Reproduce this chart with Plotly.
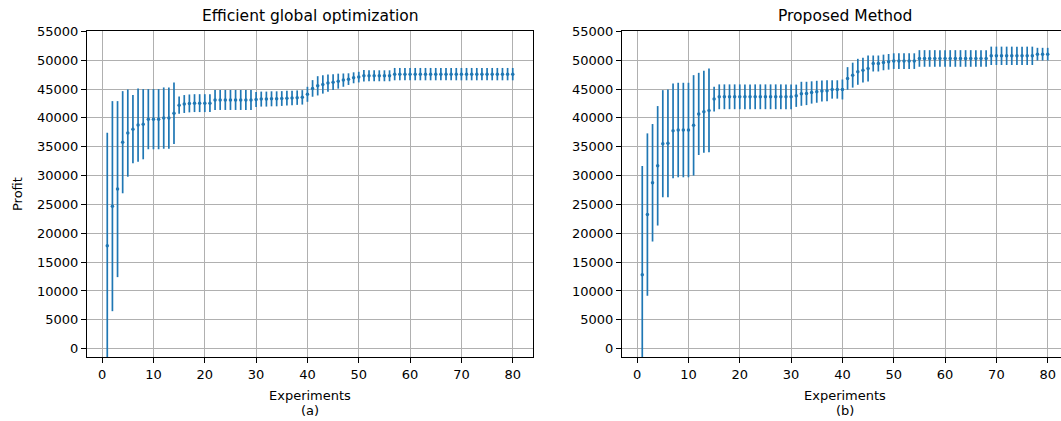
import plotly.graph_objects as go

experiments = list(range(1, 81))

# Efficient global optimization (a): mean profit and error half-width
ego_mean = [17820, 24700, 27650, 35780, 37360, 38030, 38750, 38900, 39770, 39770,
            39770, 39960, 39960, 40800, 42200, 42400, 42500, 42550, 42550, 42550,
            42550, 43100, 43100, 43100, 43100, 43100, 43100, 43100, 43100, 43200,
            43250, 43250, 43300, 43300, 43350, 43400, 43450, 43500, 43550, 44080,
            45100, 45550, 45790, 46020, 46190, 46360, 46540, 46710, 46940, 47060,
            47290, 47290, 47290, 47290, 47290, 47290, 47575, 47575, 47575, 47575,
            47575, 47575, 47575, 47575, 47575, 47575, 47575, 47575, 47575, 47575,
            47575, 47575, 47575, 47575, 47575, 47575, 47575, 47575, 47575, 47575]
ego_err = [19600, 18200, 15250, 8850, 7560, 5910, 6350, 6080, 5210, 5210,
           5210, 5310, 5310, 5340, 1500, 1550, 1550, 1550, 1550, 1550,
           1550, 1730, 1730, 1730, 1730, 1730, 1730, 1730, 1730, 1300,
           1300, 1300, 1300, 1300, 1280, 1280, 1260, 1250, 1250, 1300,
           1440, 1670, 1590, 1500, 1385, 1300, 1150, 1010, 950, 920,
           1010, 950, 950, 950, 950, 950, 1070, 1070, 1070, 1070,
           1070, 1070, 1070, 1070, 1070, 1070, 1070, 1070, 1070, 1070,
           1070, 1070, 1070, 1070, 1070, 1070, 1070, 1070, 1070, 1070]

# Proposed Method (b)
prop_mean = [12800, 23240, 28750, 31690, 35520, 35580, 37750, 37890, 37890, 37890,
             38700, 40680, 41050, 41290, 43250, 43650, 43650, 43650, 43650, 43650,
             43650, 43650, 43650, 43650, 43650, 43650, 43650, 43650, 43650, 43650,
             43830, 44170, 44230, 44400, 44520, 44640, 44690, 44920, 44920, 44920,
             46830, 47400, 47980, 48270, 48560, 49420, 49420, 49600, 49710, 49830,
             49830, 49830, 49830, 49830, 50290, 50290, 50290, 50290, 50290, 50290,
             50290, 50290, 50290, 50290, 50290, 50290, 50290, 50290, 50750, 50750,
             50750, 50750, 50750, 50750, 50750, 50750, 50750, 51035, 51035, 51035]
prop_err = [18860, 14070, 10180, 10350, 9280, 9340, 8220, 8190, 8190, 8190,
            8700, 7120, 7100, 7270, 2160, 2150, 2150, 2150, 2150, 2150,
            2150, 2150, 2150, 2150, 2150, 2150, 2150, 2150, 2150, 2150,
            1930, 2080, 2020, 1930, 1900, 1820, 1820, 1590, 1590, 1730,
            1960, 2160, 2250, 2160, 2250, 1385, 1385, 1355, 1355, 1355,
            1355, 1355, 1355, 1355, 1440, 1440, 1440, 1440, 1440, 1440,
            1440, 1440, 1440, 1440, 1440, 1440, 1440, 1440, 1590, 1590,
            1590, 1590, 1590, 1590, 1590, 1590, 1590, 1100, 1100, 1100]

titles = ["Efficient global optimization", "Proposed Method"]
x_label = "Experiments"
sub_labels = ["(a)", "(b)"]
y_label = "Profit"
y_ticks = list(range(0, 55001, 5000))
y_ticktext = [str(v) for v in y_ticks]
x_ticks = list(range(0, 81, 10))

BLUE = "#1f77b4"
FONT = "DejaVu Sans"
W, H = 1061, 421
TOP, BOT = 31, 357

fig = go.Figure()
for mean, err, xa, ya in [(ego_mean, ego_err, "x", "y"), (prop_mean, prop_err, "x2", "y2")]:
    fig.add_trace(go.Scatter(
        x=experiments, y=mean, mode="markers",
        marker=dict(color=BLUE, size=3.5),
        error_y=dict(type="data", array=err, visible=True, color=BLUE,
                     thickness=1.7, width=0),
        xaxis=xa, yaxis=ya, showlegend=False, hoverinfo="skip"))

left_dom = [87 / W, 533 / W]
right_dom = [622 / W, 1.0]

common_x = dict(tickmode="array", tickvals=x_ticks, ticks="outside", ticklen=5,
                tickwidth=1, tickcolor="black", showgrid=True, gridcolor="#b0b0b0",
                gridwidth=1, zeroline=False, showline=True, linecolor="black",
                linewidth=1, ticklabeloverflow="allow",
                tickfont=dict(family=FONT, size=13, color="black"))
common_y = dict(tickmode="array", tickvals=y_ticks, ticktext=y_ticktext,
                ticks="outside", ticklen=5,
                tickwidth=1, tickcolor="black", showgrid=True, gridcolor="#b0b0b0",
                gridwidth=1, zeroline=False, showline=True, linecolor="black",
                linewidth=1, range=[-1440, 55050],
                tickfont=dict(family=FONT, size=13, color="black"))

fig.update_layout(
    width=W, height=H,
    margin=dict(l=0, r=0, t=TOP, b=H - BOT, autoexpand=False),
    paper_bgcolor="white", plot_bgcolor="white",
    font=dict(family=FONT, color="black"),
    xaxis=dict(domain=left_dom, range=[-2.95, 83.95], anchor="y", mirror=True, **common_x),
    yaxis=dict(domain=[0, 1], anchor="x", mirror=True, **common_y),
    xaxis2=dict(domain=right_dom, range=[-2.95, 82.59], anchor="y2", mirror=True, **common_x),
    yaxis2=dict(domain=[0, 1], anchor="x2", mirror=False, **common_y),
)

plot_h = BOT - TOP
def py(ref_y):
    return (BOT - ref_y) / plot_h
def px(ref_x):
    return ref_x / W

centers_ref = [(87 + 533) / 2, (622 + 1068) / 2]
ann = []
for i in range(2):
    ann.append(dict(text=titles[i], x=px(centers_ref[i]), y=py(16),
                    font=dict(family=FONT, size=15.5, color="black")))
    ann.append(dict(text=x_label, x=px(centers_ref[i]), y=py(395),
                    font=dict(family=FONT, size=13, color="black")))
    ann.append(dict(text=sub_labels[i], x=px(centers_ref[i]), y=py(410),
                    font=dict(family=FONT, size=13, color="black")))
ann.append(dict(text=y_label, x=px(17), y=py(194), textangle=-90,
                font=dict(family=FONT, size=13, color="black")))
for a in ann:
    a.update(xref="paper", yref="paper", showarrow=False,
             xanchor="center", yanchor="middle")
fig.update_layout(annotations=ann)

fig.write_html("out.html",
               config={"displayModeBar": False, "staticPlot": True},
               post_script="document.body.style.margin='0';document.body.style.overflow='hidden';")
